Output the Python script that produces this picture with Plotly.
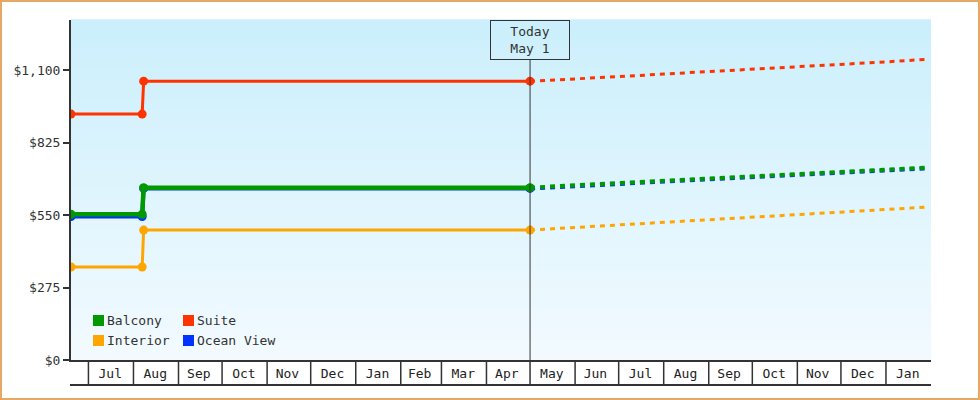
import plotly.graph_objects as go

# --- data ---------------------------------------------------------------
series_names = ["Interior", "Suite", "Ocean View", "Balcony"]
series_colors = {"Balcony": "#009900", "Suite": "#ff3300",
                 "Interior": "#ffa500", "Ocean View": "#0033ff"}
series_widths = {"Balcony": 4.5, "Suite": 3, "Interior": 3, "Ocean View": 4}

history_dates = ["2024-06-19", "2024-08-07", "2024-08-08", "2025-05-01"]
history_interior = [353, 353, 493, 493]
history_suite = [933, 933, 1058, 1058]
history_ocean = [544, 544, 651, 651]
history_balcony = [553, 553, 654, 654]

forecast_dates = ["2025-05-01", "2025-06-01", "2025-07-01", "2025-08-01",
                  "2025-09-01", "2025-10-01", "2025-11-01", "2025-12-01",
                  "2026-01-01", "2026-01-29"]
forecast_interior = [493, 503, 513, 522, 532, 541, 551, 561, 570, 580]
forecast_suite = [1058, 1066, 1075, 1085, 1094, 1104, 1113, 1122, 1131, 1141]
forecast_ocean = [651, 660, 668, 677, 685, 694, 702, 711, 719, 727]
forecast_balcony = [654, 663, 671, 680, 688, 697, 705, 714, 722, 730]

history = {"Interior": history_interior, "Suite": history_suite,
           "Ocean View": history_ocean, "Balcony": history_balcony}
forecast = {"Interior": forecast_interior, "Suite": forecast_suite,
            "Ocean View": forecast_ocean, "Balcony": forecast_balcony}

month_starts = ["2024-07-01", "2024-08-01", "2024-09-01", "2024-10-01",
                "2024-11-01", "2024-12-01", "2025-01-01", "2025-02-01",
                "2025-03-01", "2025-04-01", "2025-05-01", "2025-06-01",
                "2025-07-01", "2025-08-01", "2025-09-01", "2025-10-01",
                "2025-11-01", "2025-12-01", "2026-01-01"]
month_mids = ["2024-07-16", "2024-08-16", "2024-09-15", "2024-10-16",
              "2024-11-15", "2024-12-16", "2025-01-16", "2025-02-14",
              "2025-03-16", "2025-04-15", "2025-05-16", "2025-06-15",
              "2025-07-16", "2025-08-16", "2025-09-15", "2025-10-16",
              "2025-11-15", "2025-12-16", "2026-01-16"]
month_labels = ["Jul", "Aug", "Sep", "Oct", "Nov", "Dec", "Jan", "Feb", "Mar",
                "Apr", "May", "Jun", "Jul", "Aug", "Sep", "Oct", "Nov", "Dec",
                "Jan"]
y_ticks = [0, 275, 550, 825, 1100]
y_labels = ["$0", "$275", "$550", "$825", "$1,100"]
today = "2025-05-01"
legend_order = [["Balcony", "Suite"], ["Interior", "Ocean View"]]

# --- layout geometry (pixels) --------------------------------------------
W, H = 980, 400
ML, MR, MT, MB = 71, 49, 20, 40
PW, PH = W - ML - MR, H - MT - MB
FONT = "DejaVu Sans Mono"
INK = "#333333"


def px_x(px):
    return (px - ML) / PW


def px_y(py):
    return (H - MB - py) / PH


fig = go.Figure()

for name in series_names:
    c = series_colors[name]
    w = min(series_widths[name], 4)
    fig.add_trace(go.Scatter(x=forecast_dates, y=forecast[name], mode="lines",
                             line=dict(color=c, width=w, dash="5px,5px"),
                             showlegend=False, hoverinfo="skip"))
for name in series_names:
    c = series_colors[name]
    w = series_widths[name]
    fig.add_trace(go.Scatter(x=history_dates, y=history[name], name=name,
                             mode="lines+markers",
                             line=dict(color=c, width=w),
                             marker=dict(color=c, size=9),
                             showlegend=False))

shapes = []
# gradient background
n = 34
top, bot = (203, 239, 252), (242, 250, 255)
for i in range(n):
    t = i / (n - 1)
    col = tuple(round(top[k] + (bot[k] - top[k]) * t) for k in range(3))
    shapes.append(dict(type="rect", xref="paper", yref="paper", layer="below",
                       x0=0, x1=1, y0=1 - (i + 1) / n, y1=1 - i / n + 0.002,
                       fillcolor="rgb(%d,%d,%d)" % col, line=dict(width=0)))
# outer border
shapes.append(dict(type="rect", xref="paper", yref="paper",
                   x0=px_x(1), x1=px_x(W - 1), y0=px_y(H - 1), y1=px_y(1),
                   line=dict(color="#e8a865", width=2)))
# month cell grid under the axis
shapes.append(dict(type="line", xref="paper", yref="paper",
                   x0=px_x(70), x1=1, y0=px_y(385), y1=px_y(385),
                   line=dict(color=INK, width=2)))
for d in month_starts:
    shapes.append(dict(type="line", xref="x", yref="paper", x0=d, x1=d,
                       y0=px_y(385), y1=0, line=dict(color=INK, width=1.5)))
# today line
shapes.append(dict(type="line", xref="x", yref="paper", x0=today, x1=today,
                   y0=0, y1=px_y(60), line=dict(color=INK, width=1)))

annotations = [dict(x=today, xref="x", y=1, yref="paper", yanchor="top",
                    text="Today<br>May 1", showarrow=False, width=74, height=34,
                    borderpad=2, bordercolor=INK, borderwidth=1,
                    font=dict(family=FONT, size=13, color=INK))]

# legend drawn as squares + labels
for r, row in enumerate(legend_order):
    for c, name in enumerate(row):
        x0 = 93 + c * 90
        y0 = 315 + r * 20
        shapes.append(dict(type="rect", xref="paper", yref="paper",
                           x0=px_x(x0), x1=px_x(x0 + 11),
                           y0=px_y(y0 + 11), y1=px_y(y0),
                           fillcolor=series_colors[name], line=dict(width=0)))
        annotations.append(dict(x=px_x(x0 + 12), y=px_y(y0 + 5.5),
                                xref="paper", yref="paper", xanchor="left",
                                yanchor="middle", text=name, showarrow=False,
                                font=dict(family=FONT, size=13, color=INK)))

fig.update_layout(
    width=W, height=H,
    margin=dict(l=ML, r=MR, t=MT, b=MB, pad=0),
    paper_bgcolor="white", plot_bgcolor="rgba(0,0,0,0)",
    font=dict(family=FONT, size=13, color=INK),
    shapes=shapes, annotations=annotations, showlegend=False,
)
fig.update_xaxes(type="date", range=["2024-06-19", "2026-02-01"],
                 tickvals=month_mids, ticktext=month_labels, ticks="",
                 showgrid=False, zeroline=False, showline=True,
                 linecolor=INK, linewidth=2,
                 tickfont=dict(family=FONT, size=13, color="#222"))
fig.update_yaxes(range=[0, 1290], tickvals=y_ticks, ticktext=y_labels,
                 ticks="outside", ticklen=6, tickwidth=2,
                 tickcolor=INK, showgrid=False, zeroline=False, showline=True,
                 linecolor=INK, linewidth=2,
                 tickfont=dict(family=FONT, size=13, color=INK))

fig.write_html("out.html", config={"displayModeBar": False},
               post_script="document.body.style.margin='0';")
